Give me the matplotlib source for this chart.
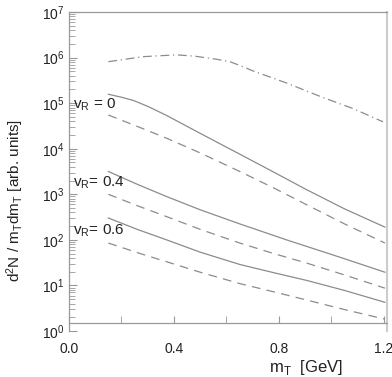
import numpy as np
import matplotlib
matplotlib.use("Agg")
import matplotlib.pyplot as plt

plt.rcParams["font.family"] = ["Liberation Sans", "DejaVu Sans"]

# values, as log10 of d2N/(mT dmT)
mt_dd = [0.15, 0.283, 0.41, 0.48, 0.56, 0.613, 0.65, 0.70, 0.83, 0.956, 1.083, 1.197]
log_dd = [5.91, 6.02, 6.06, 6.03, 5.965, 5.91, 5.83, 5.71, 5.44, 5.15, 4.88, 4.59]

mt_v0_solid = [0.150, 0.20, 0.245, 0.30, 0.372, 0.499, 0.651, 0.766, 0.906, 1.05, 1.204]
log_v0_solid = [5.195, 5.13, 5.06, 4.93, 4.73, 4.34, 3.88, 3.53, 3.10, 2.68, 2.28]
mt_v0_dash = [0.150, 0.26, 0.372, 0.499, 0.651, 0.78, 0.906, 1.05, 1.204]
log_v0_dash = [4.74, 4.49, 4.23, 3.91, 3.50, 3.14, 2.77, 2.35, 1.93]

mt_v4_solid = [0.150, 0.26, 0.372, 0.50, 0.651, 0.829, 1.032, 1.204]
log_v4_solid = [3.50, 3.22, 2.95, 2.66, 2.35, 2.00, 1.62, 1.29]
mt_v4_dash = [0.150, 0.26, 0.372, 0.50, 0.651, 0.78, 0.906, 1.05, 1.204]
log_v4_dash = [3.00, 2.75, 2.51, 2.23, 1.93, 1.70, 1.49, 1.23, 0.94]

mt_v6_solid = [0.150, 0.26, 0.372, 0.50, 0.651, 0.78, 0.906, 1.05, 1.204]
log_v6_solid = [2.48, 2.23, 2.00, 1.73, 1.46, 1.28, 1.11, 0.89, 0.63]
mt_v6_dash = [0.150, 0.26, 0.372, 0.50, 0.651, 0.78, 0.906, 1.05, 1.204]
log_v6_dash = [1.93, 1.72, 1.52, 1.29, 1.04, 0.86, 0.68, 0.47, 0.26]

labels = [r"$\mathregular{v_R}$ = 0", r"$\mathregular{v_R}$= 0.4", r"$\mathregular{v_R}$= 0.6"]
label_y = [4.96, 3.25, 2.2]

gray = "#8c8c8c"
txt = "#222222"

fig = plt.figure(figsize=(3.92, 3.77), dpi=100)
ax = fig.add_axes([69/392, 1-331/377, (387-69)/392, (331-12)/377])

ax.semilogy(mt_dd, 10**np.array(log_dd), color=gray, lw=0.9, dashes=(7, 3, 1, 3))
curves = [(mt_v0_solid, log_v0_solid, mt_v0_dash, log_v0_dash),
          (mt_v4_solid, log_v4_solid, mt_v4_dash, log_v4_dash),
          (mt_v6_solid, log_v6_solid, mt_v6_dash, log_v6_dash)]
for xs, sol, xd, das in curves:
    ax.semilogy(xs, 10**np.array(sol), color=gray, lw=0.9)
    ax.semilogy(xd, 10**np.array(das), color=gray, lw=0.9, dashes=(7, 5))

for lab, ly in zip(labels, label_y):
    ax.text(0.015, 10**ly, lab, fontsize=11, color=txt, va="center", ha="left")

ax.set_xlim(0, 1.212)
ax.set_ylim(1, 1e7)
ax.set_xticks([0.0, 0.4, 0.8, 1.2])
ax.set_xticklabels(["0.0", "0.4", "0.8", "1.2"])
ax.set_xticks([0.2, 0.6, 1.0], minor=True)
ax.spines["bottom"].set_position(("data", 1.5))
for s in ax.spines.values():
    s.set_color("#999999")
    s.set_linewidth(0.9)
ax.spines["right"].set_color("#cccccc")
ax.spines["right"].set_linewidth(1.5)

ax.tick_params(axis="both", which="both", direction="in", colors="#999999",
               labelcolor=txt, labelsize=10)
ax.tick_params(axis="x", which="both", length=5, pad=14)
ax.tick_params(axis="y", which="major", length=6)
ax.tick_params(axis="y", which="minor", length=4)
ax.yaxis.set_minor_locator(matplotlib.ticker.LogLocator(base=10, subs=np.arange(2, 10), numticks=20))
ax.yaxis.set_minor_formatter(matplotlib.ticker.NullFormatter())

ax.set_xlabel(r"m$_\mathregular{T}$  [GeV]", fontsize=12, color=txt, va="top")
ax.xaxis.set_label_coords(0.745, -0.086)
ax.set_ylabel(r"$\mathregular{d^2N}$ / $\mathregular{m_T dm_T}$ [arb. units]", fontsize=11, color=txt)
ax.yaxis.set_label_coords(-0.135, 0.41)

fig.savefig("out.png", dpi=100)
